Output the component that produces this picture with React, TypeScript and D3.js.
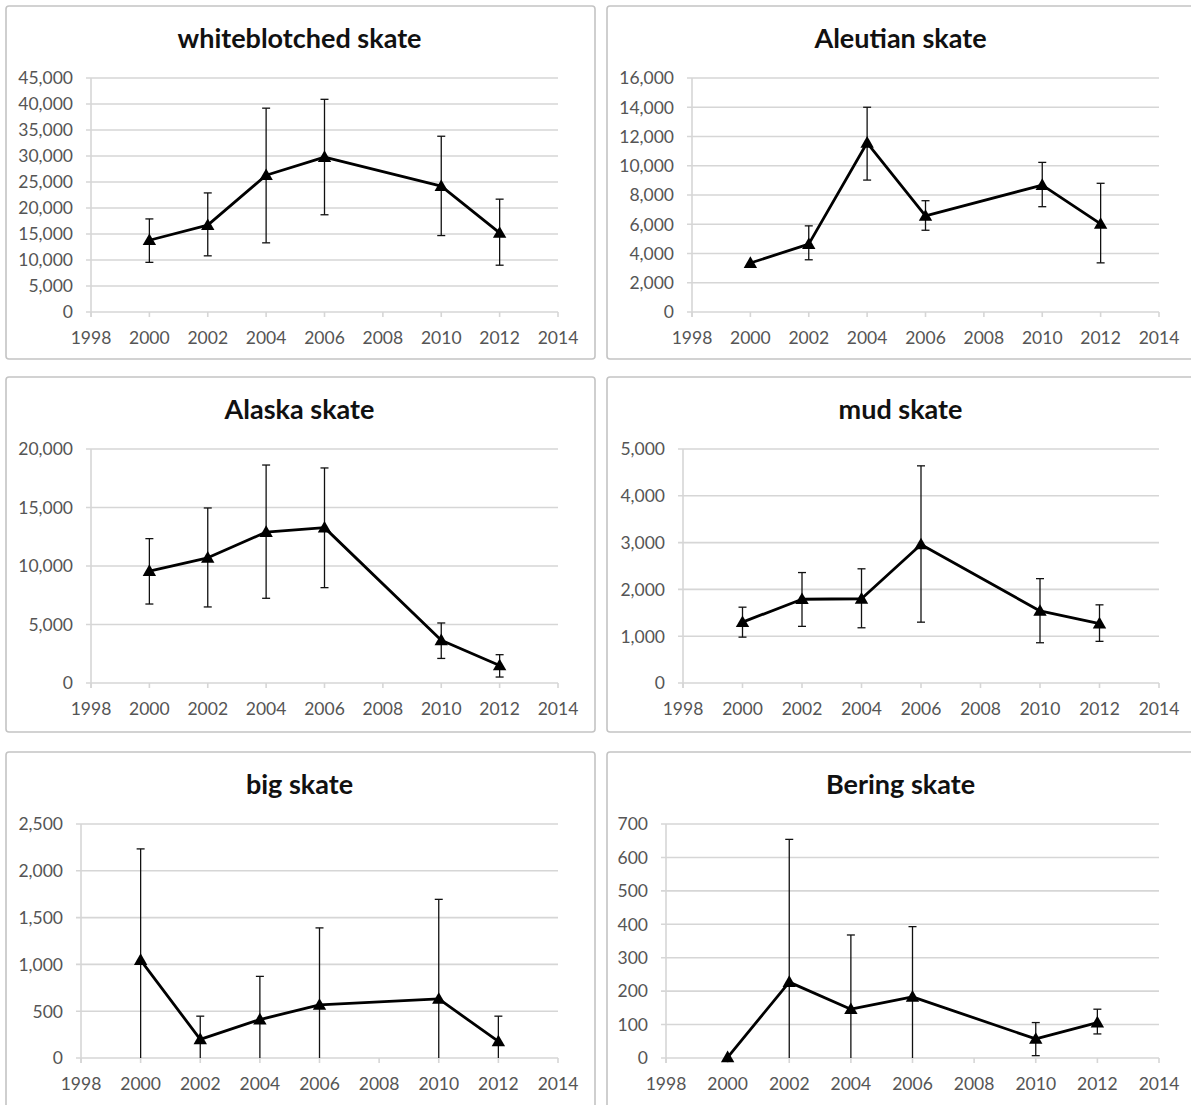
import React from "react";
import * as d3 from "d3";

// ---------- DATA ----------
const years = [2000, 2002, 2004, 2006, 2010, 2012];
const xTicks = [1998, 2000, 2002, 2004, 2006, 2008, 2010, 2012, 2014];

const titles = [
  "whiteblotched skate",
  "Aleutian skate",
  "Alaska skate",
  "mud skate",
  "big skate",
  "Bering skate",
];

const whiteblotchedValues = [13800, 16700, 26300, 29800, 24200, 15200];
const whiteblotchedLower = [9550, 10800, 13300, 18700, 14700, 9000];
const whiteblotchedUpper = [17900, 22900, 39200, 40900, 33800, 21700];

const aleutianValues = [3350, 4640, 11570, 6570, 8680, 6020];
const aleutianLower = [3350, 3570, 9020, 5590, 7200, 3360];
const aleutianUpper = [3350, 5890, 14000, 7610, 10230, 8800];

const alaskaValues = [9570, 10700, 12900, 13280, 3650, 1500];
const alaskaLower = [6750, 6500, 7240, 8150, 2100, 510];
const alaskaUpper = [12340, 14960, 18630, 18380, 5130, 2420];

const mudValues = [1300, 1790, 1800, 2960, 1540, 1270];
const mudLower = [980, 1210, 1180, 1300, 860, 890];
const mudUpper = [1620, 2360, 2440, 4640, 2230, 1670];

const bigValues = [1046, 199, 411, 567, 631, 177];
const bigLower = [0, 0, 0, 0, 0, 0];
const bigUpper = [2234, 447, 872, 1390, 1695, 447];

const beringValues = [2, 227, 146, 183, 57, 106];
const beringLower = [2, 0, 0, 0, 7, 72];
const beringUpper = [2, 654, 368, 393, 106, 146];

const yMaxes = [45000, 16000, 20000, 5000, 2500, 700];
const ySteps = [5000, 2000, 5000, 1000, 500, 100];

const seriesValues = [whiteblotchedValues, aleutianValues, alaskaValues, mudValues, bigValues, beringValues];
const seriesLower = [whiteblotchedLower, aleutianLower, alaskaLower, mudLower, bigLower, beringLower];
const seriesUpper = [whiteblotchedUpper, aleutianUpper, alaskaUpper, mudUpper, bigUpper, beringUpper];

// ---------- LAYOUT ----------
const W = 1191;
const H = 1105;
const colX = [6, 607];
const rowY = [6, 377, 752];
const boxW = 589;
const boxHs = [353, 355, 380];
const plotLeftOffsets = [85, 85, 85, 76, 75, 59];
const plotRightOffset = 552;
const plotTopOffset = 72;
const plotBottomOffset = 306;

const fontFamily = "Lato, 'Open Sans', sans-serif";
const gridColor = "#d6d6d6";
const textColor = "#555555";

function Panel({ idx }: { idx: number }) {
  const col = idx % 2;
  const row = Math.floor(idx / 2);
  const bx = colX[col];
  const by = rowY[row];
  const x = d3
    .scaleLinear()
    .domain([1998, 2014])
    .range([bx + plotLeftOffsets[idx], bx + plotRightOffset]);
  const y = d3
    .scaleLinear()
    .domain([0, yMaxes[idx]])
    .range([by + plotBottomOffset, by + plotTopOffset]);
  const yTicks = d3.range(0, yMaxes[idx] + ySteps[idx] / 2, ySteps[idx]);
  const fmt = d3.format(",");
  const vals = seriesValues[idx];
  const lo = seriesLower[idx];
  const hi = seriesUpper[idx];
  const line = d3
    .line<number>()
    .x((_, i) => x(years[i]))
    .y((v) => y(v));
  const tri = d3.symbol().type(d3.symbolTriangle).size(78)();
  const x0 = x.range()[0];
  const x1 = x.range()[1];
  const y0 = y(0);
  const capW = 4;

  return (
    <g>
      <rect
        x={bx}
        y={by}
        width={boxW}
        height={boxHs[row]}
        rx={3}
        fill="#fff"
        stroke="#c4c4c4"
        strokeWidth={1.6}
      />
      <text
        x={bx + boxW / 2 - 1}
        y={by + 42}
        textAnchor="middle"
        fontFamily={fontFamily}
        fontWeight="bold"
        fontSize={27}
        fill="#111"
      >
        {titles[idx]}
      </text>
      {yTicks.map((t) => (
        <g key={"y" + t}>
          <line x1={x0 - 5} x2={x1} y1={y(t)} y2={y(t)} stroke={gridColor} strokeWidth={1.6} />
          <text
            x={x0 - 18}
            y={y(t)}
            dy="0.36em"
            textAnchor="end"
            fontFamily={fontFamily}
            fontSize={17.5}
            fill={textColor}
          >
            {fmt(t)}
          </text>
        </g>
      ))}
      <line x1={x0} x2={x0} y1={y.range()[1]} y2={y0 + 5} stroke={gridColor} strokeWidth={1.6} />
      {xTicks.map((t) => (
        <g key={"x" + t}>
          <line x1={x(t)} x2={x(t)} y1={y0} y2={y0 + 5} stroke={gridColor} strokeWidth={1.6} />
          <text
            x={x(t)}
            y={y0 + 32}
            textAnchor="middle"
            fontFamily={fontFamily}
            fontSize={17.5}
            fill={textColor}
          >
            {t}
          </text>
        </g>
      ))}
      {years.map((yr, i) =>
        hi[i] !== lo[i] ? (
          <g key={"e" + yr} stroke="#111" strokeWidth={1.3}>
            <line x1={x(yr)} x2={x(yr)} y1={y(lo[i])} y2={y(hi[i])} />
            <line x1={x(yr) - capW} x2={x(yr) + capW} y1={y(hi[i])} y2={y(hi[i])} />
            {lo[i] > 0 && (
              <line x1={x(yr) - capW} x2={x(yr) + capW} y1={y(lo[i])} y2={y(lo[i])} />
            )}
          </g>
        ) : null
      )}
      <path d={line(vals) || ""} fill="none" stroke="#000" strokeWidth={2.8} strokeLinejoin="round" />
      {years.map((yr, i) => (
        <path key={"m" + yr} d={tri || ""} transform={`translate(${x(yr)},${y(vals[i]) + 1})`} fill="#000" />
      ))}
    </g>
  );
}

export default function App() {
  return (
    <svg
      width={W}
      height={H}
      style={{ position: "absolute", left: 0, top: 0, background: "#fff" }}
    >
      <rect x={0} y={0} width={W} height={H} fill="#fff" />
      {titles.map((_, i) => (
        <Panel key={i} idx={i} />
      ))}
    </svg>
  );
}
